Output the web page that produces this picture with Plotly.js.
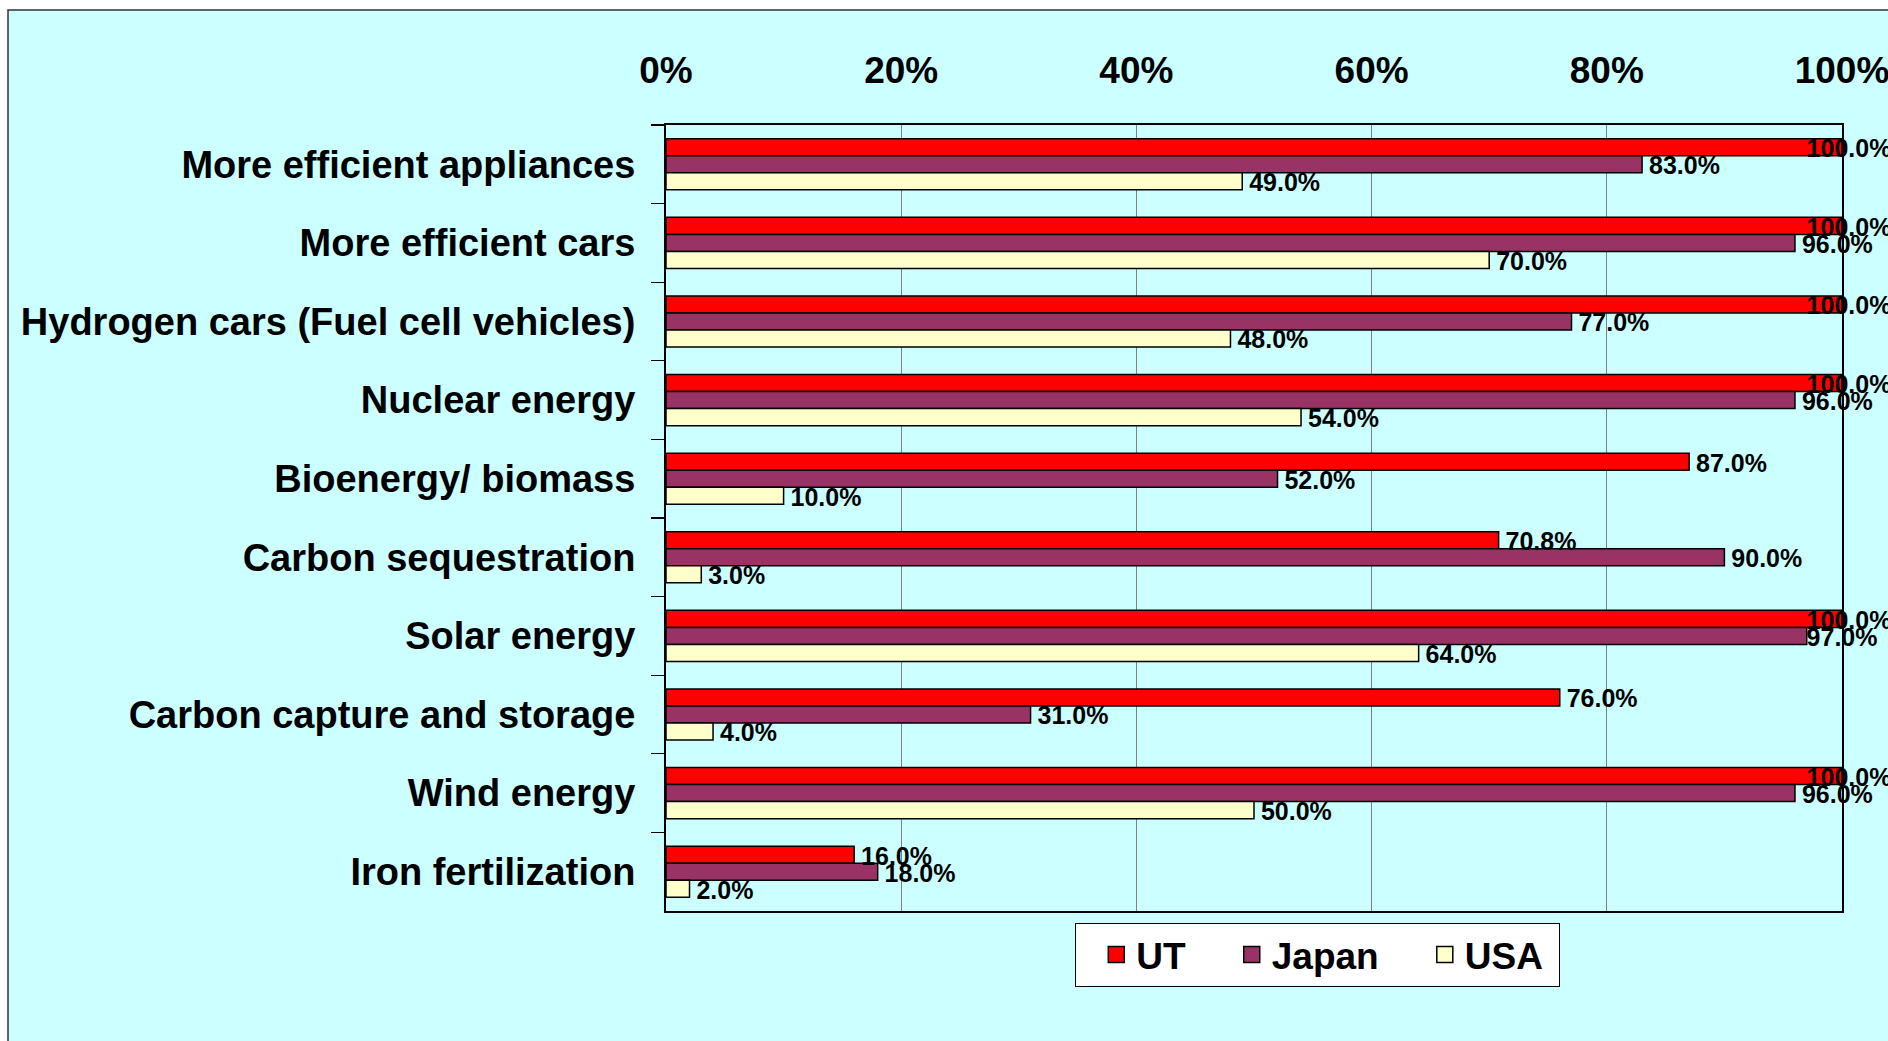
<!DOCTYPE html>
<html><head><meta charset="utf-8">
<script src="https://cdn.plot.ly/plotly-3.0.1.min.js"></script>
<style>html,body{margin:0;padding:0;background:#fff;} #chart{width:1888px;height:1041px;}</style>
</head><body><div id="chart"></div>
<script>
const categories = ["More efficient appliances", "More efficient cars", "Hydrogen cars (Fuel cell vehicles)", "Nuclear energy", "Bioenergy/ biomass", "Carbon sequestration", "Solar energy", "Carbon capture and storage", "Wind energy", "Iron fertilization"];
const seriesNames = ["UT", "Japan", "USA"];
const utValues = [100, 100, 100, 100, 87, 70.8, 100, 76, 100, 16];
const japanValues = [83, 96, 77, 96, 52, 90, 97, 31, 96, 18];
const usaValues = [49, 70, 48, 54, 10, 3, 64, 4, 50, 2];
const xTickValues = [0, 20, 40, 60, 80, 100];
const xTickLabels = ["0%", "20%", "40%", "60%", "80%", "100%"];

const seriesValues = [utValues, japanValues, usaValues];
const seriesColors = ["#FF0000", "#993366", "#FFFFCC"];
const FONT = "Liberation Sans, Arial, Helvetica, sans-serif";
const LABEL_MAX = 96.4;   // labels of bars reaching the right edge are pulled back inside the chart area
const LABEL_DROP = 0.046; // value labels sit a few pixels below the bar centre
const legendPad = ["\u00a0\u00a0\u00a0\u00a0", "\u00a0\u00a0\u00a0\u00a0", "\u00a0"];
const nCat = categories.length;
const boundaryTicks = categories.map((c, i) => i - 0.5).concat([nCat - 0.5]);

const traces = [];
seriesValues.forEach((vals, i) => {
  traces.push({
    type: "bar", orientation: "h", name: seriesNames[i],
    x: vals, y: categories,
    marker: {color: seriesColors[i], line: {color: "#000000", width: 1.5}},
    showlegend: false, hoverinfo: "skip"
  });
});
seriesValues.forEach((vals, i) => {
  traces.push({
    type: "scatter", mode: "text", orientation: "h", yaxis: "y2",
    x: vals.map(v => Math.min(v, LABEL_MAX)), y: categories,
    text: vals.map(v => "\u00a0" + v.toFixed(1) + "%"),
    textposition: "middle right",
    textfont: {family: FONT, size: 25, color: "#000000", weight: "bold"},
    offsetgroup: "g" + i,
    cliponaxis: false, showlegend: false, hoverinfo: "skip"
  });
});
// legend entries (larger square swatches than the fixed bar legend symbol)
seriesNames.forEach((nm, i) => {
  traces.push({
    type: "scatter", mode: "markers", name: nm + legendPad[i],
    x: [null], y: [null],
    marker: {symbol: "square", size: 16, color: seriesColors[i], line: {color: "#000000", width: 1.5}},
    showlegend: true, hoverinfo: "skip"
  });
});

const layout = {
  width: 1888, height: 1041,
  margin: {l: 666, r: 46, t: 125, b: 130, pad: 0},
  paper_bgcolor: "#FFFFFF", plot_bgcolor: "#FFFFFF",
  barmode: "group", bargap: 0.35, bargroupgap: 0,
  scattermode: "group", scattergap: 0.35,
  showlegend: true, hovermode: false,
  font: {family: FONT, color: "#000000", weight: "bold"},
  xaxis: {
    side: "top", range: [0, 100], tickvals: xTickValues, ticktext: xTickLabels,
    tickfont: {family: FONT, size: 37, weight: "bold", color: "#000"},
    ticks: "", ticklabelstandoff: 25, ticklabeloverflow: "allow",
    showgrid: true, gridcolor: "#808080", gridwidth: 1.2, zeroline: false,
    showline: true, linecolor: "#000000", linewidth: 2, mirror: true, fixedrange: true
  },
  yaxis: {
    type: "category", categoryorder: "array", categoryarray: categories,
    range: [nCat - 0.5, -0.5], autorange: false,
    ticks: "outside", tickson: "boundaries", ticklen: 13, tickcolor: "#000", tickwidth: 1.2,
    tickfont: {family: FONT, size: 38, weight: "bold", color: "#000"},
    ticklabelstandoff: 21,
    showgrid: false, showline: true, linecolor: "#000000", linewidth: 2, mirror: true, fixedrange: true
  },
  yaxis2: {
    overlaying: "y", side: "left", type: "category", categoryorder: "array", categoryarray: categories,
    range: [nCat - 0.5 - LABEL_DROP, -0.5 - LABEL_DROP], autorange: false,
    ticks: "", showticklabels: false, showgrid: false, showline: false, zeroline: false, fixedrange: true
  },
  yaxis3: {
    overlaying: "y", side: "left", anchor: "x", type: "linear",
    range: [nCat - 0.5, -0.5], autorange: false,
    tickmode: "array", tickvals: boundaryTicks,
    ticks: "inside", ticklen: 12, tickcolor: "#000", tickwidth: 1.2,
    showticklabels: false, showgrid: false, showline: false, zeroline: false, fixedrange: true
  },
  legend: {
    orientation: "h", x: 0.554, xanchor: "center", y: -0.0153, yanchor: "top",
    bgcolor: "#FFFFFF", bordercolor: "#000000", borderwidth: 1,
    font: {family: FONT, size: 37, weight: "bold", color: "#000"},
    title: {text: "\u00a0", side: "left", font: {family: FONT, size: 37}},
    traceorder: "normal", itemsizing: "trace"
  },
  shapes: [{
    type: "rect", layer: "below",
    xref: "paper", xsizemode: "pixel", xanchor: 0, x0: -658, x1: 1500,
    yref: "paper", ysizemode: "pixel", yanchor: 1, y0: 115, y1: -1200,
    fillcolor: "#CCFFFF", line: {color: "#333333", width: 1.5}
  }]
};

Plotly.newPlot("chart", traces, layout, {displayModeBar: false, staticPlot: true});
</script>
</body></html>
